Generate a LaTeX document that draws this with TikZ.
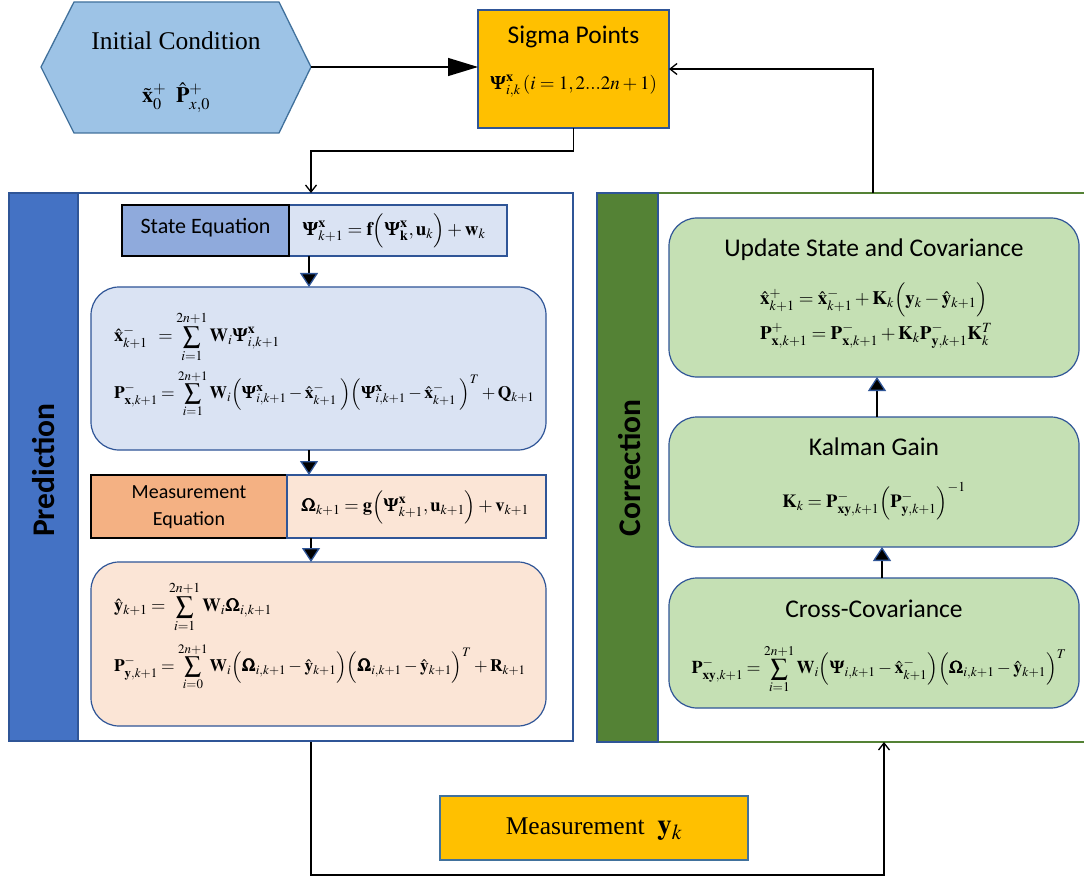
\documentclass[tikz,border=0pt]{standalone}
\usepackage{amsmath}
\usepackage{mathptmx}
\usepackage{bm}
\usepackage{graphicx}
\usepackage[no-math]{fontspec}
\setmainfont{Liberation Serif}
\newfontfamily\calibfont{Carlito}
\usetikzlibrary{arrows.meta,calc}
\newcommand\msum{\mathop{\vcenter{\hbox{\scalebox{1.35}{$\sum$}}}}\limits}
\newcommand\tightm{\medmuskip=2.5mu plus 1mu\thickmuskip=3.5mu plus 1mu}
\definecolor{hexfill}{HTML}{9DC3E6}
\definecolor{hexline}{HTML}{41719C}
\definecolor{bordblue}{HTML}{2F5597}
\definecolor{sigfill}{HTML}{FFC000}
\definecolor{predband}{HTML}{4472C4}
\definecolor{stlabel}{HTML}{8FAADC}
\definecolor{stfill}{HTML}{DAE3F3}
\definecolor{mlabel}{HTML}{F4B183}
\definecolor{mfill}{HTML}{FBE5D6}
\definecolor{corrgreen}{HTML}{548235}
\definecolor{lgreen}{HTML}{C5E0B4}
\tikzset{
  box/.style={draw=bordblue, line width=1.2pt, rectangle, anchor=north west, inner sep=0pt},
  rbox/.style={box, rounded corners=28pt},
  tnr/.style={font=\fontsize{25.5}{30}\selectfont},
  cal/.style={font=\calibfont\fontsize{25.5}{30}\selectfont},
  calsm/.style={font=\calibfont\fontsize{20}{26.5}\selectfont, align=center},
  calband/.style={font=\calibfont\bfseries\fontsize{31.5}{36}\selectfont, rotate=90},
  mth/.style={font=\fontsize{19}{23}\selectfont},
  mthd/.style={font=\fontsize{18.5}{22}\selectfont},
  mthl/.style={font=\fontsize{17.5}{21}\selectfont},
  tri/.style={line width=1.3pt, -{Triangle[length=14pt,width=18pt,color=bordblue,fill=black]}},
  barb/.style={line width=1.3pt, -{Straight Barb[length=7pt,width=11pt]}},
}
\begin{document}
\begin{tikzpicture}[x=1pt,y=-1pt, every node/.append style={inner sep=0pt, outer sep=0pt}]
\useasboundingbox (0,0) rectangle (1084,877);
\fill[white] (0,0) rectangle (1084,877);

% ---------- Initial condition ----------
\draw[fill=hexfill, draw=hexline, line width=1.3pt] (41,67) -- (74,2) -- (279,2) -- (311,67) -- (279,133) -- (74,133) -- cycle;
\coordinate (hexR) at (311,67);
\node[tnr] (ictitle) at (176,41) {Initial Condition};
\node[font=\fontsize{22}{26}\selectfont] (icmath) at (176,98) {$\tilde{\mathbf{x}}_0^+\;\;\hat{\mathbf{P}}^+_{x,0}$};

% ---------- Sigma points ----------
\node[box, fill=sigfill, minimum width=191, minimum height=118] (sigma) at (478,10) {};
\node[cal] (sigtitle) at (573.5,37) {Sigma Points};
\node[mth] (sigmath) at (573.5,86) {$\bm{\Psi}^{\mathbf{x}}_{i,k}\,(i=1,2...2n+1)$};

\draw[line width=1.3pt, -{Triangle[length=30pt,width=18pt]}] (hexR) -- (hexR -| sigma.west);

% ---------- Prediction ----------
\node[box, draw=bordblue, line width=2.5pt, fill=white, minimum width=564, minimum height=548] (pred) at (9,193) {};
\node[box, draw=bordblue, line width=1.2pt, fill=predband, minimum width=69, minimum height=548] (predbandn) at (9,193) {};
\node[calband] (predlabel) at (44,470) {Prediction};

\node[box, draw=black, fill=stlabel, minimum width=167, minimum height=51] (stlab) at (122,205) {};
\node[calsm, font=\calibfont\fontsize{22}{26}\selectfont] (stlabtxt) at (205.5,228) {State Equation};
\node[box, fill=stfill, minimum width=218, minimum height=51] (steq) at (289,205) {};
\node[mth] (steqtxt) at (394,231) {$\bm{\Psi}^{\mathbf{x}}_{k+1}=\mathbf{f}\Bigl(\bm{\Psi}^{\mathbf{x}}_{\mathbf{k}},\mathbf{u}_k\Bigr)+\mathbf{w}_k$};
\draw[box, draw=black, fill=none] (stlab.north west) rectangle (stlab.south east);

\node[rbox, fill=stfill, minimum width=455, minimum height=163] (predA) at (91,287) {};
\node[mthd, anchor=west] (pa1) at (114,337) {\tightm$\hat{\mathbf{x}}^-_{k+1}\;\;=\msum_{i=1}^{2n+1}\mathbf{W}_i\bm{\Psi}^{\mathbf{x}}_{i,k+1}$};
\node[mthl, anchor=west] (pa2) at (114,394) {\tightm$\mathbf{P}^-_{\mathbf{x},k+1}=\msum_{i=1}^{2n+1}\mathbf{W}_i\Bigl(\bm{\Psi}^{\mathbf{x}}_{i,k+1}-\hat{\mathbf{x}}^-_{k+1}\;\Bigr)\Bigl(\bm{\Psi}^{\mathbf{x}}_{i,k+1}-\hat{\mathbf{x}}^-_{k+1}\;\Bigr)^T+\mathbf{Q}_{k+1}$};

\node[box, draw=black, fill=mlabel, minimum width=196, minimum height=63] (mlab) at (91,475) {};
\node[calsm] (mlabtxt) at (189,507) {Measurement\\Equation};
\node[box, fill=mfill, minimum width=259, minimum height=63] (meq) at (287,475) {};
\node[mthd] (meqtxt) at (415,507) {$\bm{\Omega}_{k+1}=\mathbf{g}\Bigl(\bm{\Psi}^{\mathbf{x}}_{k+1},\mathbf{u}_{k+1}\Bigr)+\mathbf{v}_{k+1}$};

\node[rbox, fill=mfill, minimum width=455, minimum height=164] (predB) at (91,562) {};
\node[mthd, anchor=west] (pb1) at (114,607) {\tightm$\hat{\mathbf{y}}_{k+1}=\msum_{i=1}^{2n+1}\mathbf{W}_i\bm{\Omega}_{i,k+1}$};
\node[mthl, anchor=west] (pb2) at (114,667) {\tightm$\mathbf{P}^-_{\mathbf{y},k+1}=\msum_{i=0}^{2n+1}\mathbf{W}_i\Bigl(\bm{\Omega}_{i,k+1}-\hat{\mathbf{y}}_{k+1}\Bigr)\Bigl(\bm{\Omega}_{i,k+1}-\hat{\mathbf{y}}_{k+1}\Bigr)^T+\mathbf{R}_{k+1}$};

\draw[tri] ([xshift=20pt]steq.south west) -- ([xshift=20pt]steq.south west |- predA.north);
\draw[tri] (steq.south west |- predA.south) ++(20,0) coordinate (pa) -- (pa |- meq.north);
\draw[tri] ([xshift=24pt]meq.south west) -- ([xshift=24pt]meq.south west |- predB.north);

% ---------- Correction ----------
\draw[corrgreen, line width=2.5pt] (597,193) -- (1084,193);
\draw[corrgreen, line width=2.5pt] (597,742) -- (1084,742);
\node[box, draw=bordblue, line width=1.5pt, fill=corrgreen, minimum width=61, minimum height=549] (corrband) at (597,193) {};
\node[calband] (corrlabel) at (630,468) {Correction};

\node[rbox, fill=lgreen, minimum width=410, minimum height=159] (upd) at (669,218) {};
\node[cal] (updtitle) at (874,250) {Update State and Covariance};
\node[mth] (upd1) at (874,300) {$\hat{\mathbf{x}}^+_{k+1}=\hat{\mathbf{x}}^-_{k+1}+\mathbf{K}_k\Bigl(\mathbf{y}_k-\hat{\mathbf{y}}_{k+1}\Bigr)$};
\node[mth, anchor=west] (upd2) at (760,336) {$\mathbf{P}^+_{\mathbf{x},k+1}=\mathbf{P}^-_{\mathbf{x},k+1}+\mathbf{K}_k\mathbf{P}^-_{\mathbf{y},k+1}\mathbf{K}^T_k$};

\node[rbox, fill=lgreen, minimum width=410, minimum height=130] (kal) at (669,417) {};
\node[cal] (kaltitle) at (874,447) {Kalman Gain};
\node[mthd] (kaleq) at (874,501) {$\mathbf{K}_k=\mathbf{P}^-_{\mathbf{xy},k+1}\Bigl(\mathbf{P}^-_{\mathbf{y},k+1}\Bigr)^{-1}$};

\node[rbox, fill=lgreen, minimum width=410, minimum height=130] (cross) at (669,578) {};
\node[cal] (crosstitle) at (874,609) {Cross-Covariance};
\node[font=\fontsize{18}{22}\selectfont] (crosseq) at (879,669) {\tightm$\mathbf{P}^-_{\mathbf{xy},k+1}=\msum_{i=1}^{2n+1}\mathbf{W}_i\Bigl(\bm{\Psi}_{i,k+1}-\hat{\mathbf{x}}^-_{k+1}\Bigr)\Bigl(\bm{\Omega}_{i,k+1}-\hat{\mathbf{y}}_{k+1}\Bigr)^T$};

\draw[tri] ([xshift=3pt]kal.north) -- ([xshift=3pt]upd.south);
\draw[tri] ([xshift=8pt]cross.north) -- ([xshift=8pt]kal.south);

% ---------- Measurement ----------
\node[box, fill=sigfill, minimum width=308, minimum height=64, draw=hexline] (meas) at (440,796) {};
\node[tnr] (meastxt) at (594,829) {Measurement \ {\fontsize{29}{32}\selectfont$\mathbf{y}_k$}};

% ---------- Outer connectors ----------
\coordinate (bend) at (311,151);
\coordinate (predin) at (311,193);
\draw[barb] (sigma.south) |- (bend) -- (predin);
\coordinate (corrout) at (873,193);
\draw[barb] (corrout) |- (sigma.east);
\coordinate (predout) at (311,742);
\coordinate (low) at (311,875);
\coordinate (corrin) at (884,742);
\draw[barb] (predout) -- (low) -| (corrin);
\end{tikzpicture}
\end{document}
